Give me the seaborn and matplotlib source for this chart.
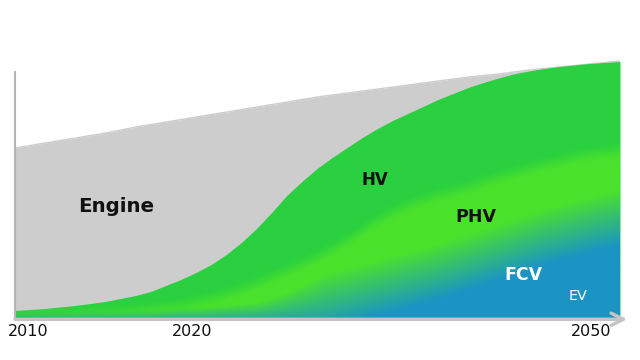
import numpy as np
import matplotlib
matplotlib.use("Agg")
import matplotlib.pyplot as plt
import matplotlib.transforms as mtransforms
import seaborn as sns
from matplotlib.colors import to_rgb

# ---- data: cumulative stacked levels (arbitrary units), one value per year ----
years = list(range(2010, 2051))
# top of EV layer (bottom of stack)
ev_level = [0, 0, 0, 0, 0, 0, 0, 0, 0, 0, 0, 0, 0, 0, 0, 0, 0, 0, 0, 0.5, 1,
            1.5, 2, 3, 4, 5, 6, 7.5, 9, 10.5, 12, 13.5, 15, 16.5, 18, 20, 22,
            24, 26, 28, 30]
# top of FCV layer (EV + FCV)
fcv_level = [1, 1, 1, 1, 1, 1, 1, 1, 1, 1, 1.5, 2, 2, 2.5, 3, 3.5, 4, 6, 8, 11,
             14, 18, 22, 26, 30, 34, 38, 42, 46, 51, 56, 61, 66, 71, 76, 81, 85,
             89, 93, 97, 100]
# top of PHV layer
phv_level = [3, 3.5, 4, 4.5, 5, 5.5, 6, 7, 8, 9.5, 11, 13, 16, 20, 24, 29, 35,
             41, 47, 54, 61, 69, 78, 88, 98, 106, 113, 118, 123, 127, 131, 136,
             141, 145, 150, 154, 157, 161, 164, 166, 168]
# top of HV layer
hv_level = [7, 8, 9, 10.5, 12, 14, 16, 19, 22, 26, 32, 38, 45, 53, 63, 75, 89,
            105, 122, 136, 149, 160, 170, 180, 189, 197, 204, 211, 218, 224,
            230, 235, 239.5, 243.5, 246.5, 249, 251, 252.5, 254, 255, 256]
# total market (top of Engine layer)
total_level = [170, 172.5, 175, 177.5, 180, 182.5, 185, 188, 191, 193.5, 196,
               198.5, 201, 203.5, 206, 208.5, 211, 213.5, 216, 218.5, 221, 223,
               225, 227, 229, 231, 233, 235, 237, 239, 241, 242.5, 244, 246,
               248, 249.5, 251, 252.5, 254, 255.5, 257]
tick_years = [2010, 2020, 2050]
tick_labels = ["2010", "2020", "2050"]

# ---- colours ----
GRAY = "#cdcdcd"
DARK_GREEN = "#2ad040"
LIGHT_GREEN = "#4ae22c"
BLUE = "#1b94c4"

sns.set_theme(style="white")
plt.rcParams["font.family"] = ["DejaVu Sans"]

yr = np.array(years, dtype=float)
blue_top = np.array(fcv_level, dtype=float)
phv_top = np.array(phv_level, dtype=float)
hv_top = np.array(hv_level, dtype=float)
total = np.array(total_level, dtype=float)

fig = plt.figure(figsize=(6.4, 3.6), dpi=100)
ax = fig.add_axes([15 / 640, 42 / 360, 605 / 640, 258 / 360])
ax.set_xlim(2010, 2050)
ax.set_ylim(0, 258)

# gray engine layer (top of stack)
ax.fill_between(yr, hv_top, total, color=GRAY, linewidth=0)
sns.lineplot(x=yr, y=total, ax=ax, color=GRAY, linewidth=1)

# electrified layers (HV, PHV, FCV, EV) with soft colour transitions
poly = ax.fill_between(yr, 0, hv_top, color=DARK_GREEN, linewidth=0)
nx, ny = 900, 600
X = np.linspace(2010, 2050, nx)
V = np.linspace(0, 258, ny)
bb = np.interp(X, yr, blue_top)[None, :]
bp = np.interp(X, yr, phv_top)[None, :]
VV = V[:, None]


def smooth(t):
    t = np.clip(t, 0, 1)
    return t * t * (3 - 2 * t)


w_blue = np.minimum(56.0, 10 + 3.0 * bb)
t_blue = np.clip(0.5 + (VV - bb) / w_blue, 0, 1)
t_dark = smooth(0.5 + (VV - bp) / 20.0)
cb, cl, cd = (np.array(to_rgb(c)) for c in (BLUE, LIGHT_GREEN, DARK_GREEN))
img = cb * (1 - t_blue)[..., None] + cl * t_blue[..., None]
img = img * (1 - t_dark)[..., None] + cd * t_dark[..., None]
im = ax.imshow(img, origin="lower", extent=[2010, 2050, 0, 258],
               aspect="auto", interpolation="bilinear", zorder=2)
im.set_clip_path(poly.get_paths()[0], transform=ax.transData)

# axes styling
for s in ("top", "right", "bottom"):
    ax.spines[s].set_visible(False)
ax.spines["left"].set_color("#b5b5b5")
ax.spines["left"].set_linewidth(1.5)
ax.spines["left"].set_bounds(0, 246)
ax.set_yticks([])
ax.annotate("", xy=(1.012, -0.005), xytext=(0, -0.005), xycoords="axes fraction",
            arrowprops=dict(arrowstyle="->", color="#c4c4c4", lw=2.5,
                            mutation_scale=22, shrinkA=0, shrinkB=0),
            annotation_clip=False, zorder=5)

ax.set_xticks(tick_years)
ax.set_xticklabels(tick_labels, fontsize=11.5, color="#111111")
ax.tick_params(axis="x", length=0, pad=4)
labs = ax.get_xticklabels()
labs[0].set_ha("left")
labs[1].set_ha("left")
labs[2].set_ha("right")
for lab, dx in zip(labs, (-7, 6, -9)):
    lab.set_transform(lab.get_transform() +
                      mtransforms.ScaledTranslation(dx / 100, 0, fig.dpi_scale_trans))

# layer labels
ax.text(2016.7, 112, "Engine", fontsize=14.3, fontweight="bold", color="#111111",
        ha="center", va="center", zorder=6)
ax.text(2033.8, 138, "HV", fontsize=12, fontweight="bold", color="#111111",
        ha="center", va="center", zorder=6)
ax.text(2040.5, 101, "PHV", fontsize=12.6, fontweight="bold", color="#111111",
        ha="center", va="center", zorder=6)
ax.text(2043.6, 43, "FCV", fontsize=12.5, fontweight="bold", color="white",
        ha="center", va="center", zorder=6)
ax.text(2047.2, 22, "EV", fontsize=10.4, color="white",
        ha="center", va="center", zorder=6)

fig.savefig("out.png", dpi=100, facecolor="white")
